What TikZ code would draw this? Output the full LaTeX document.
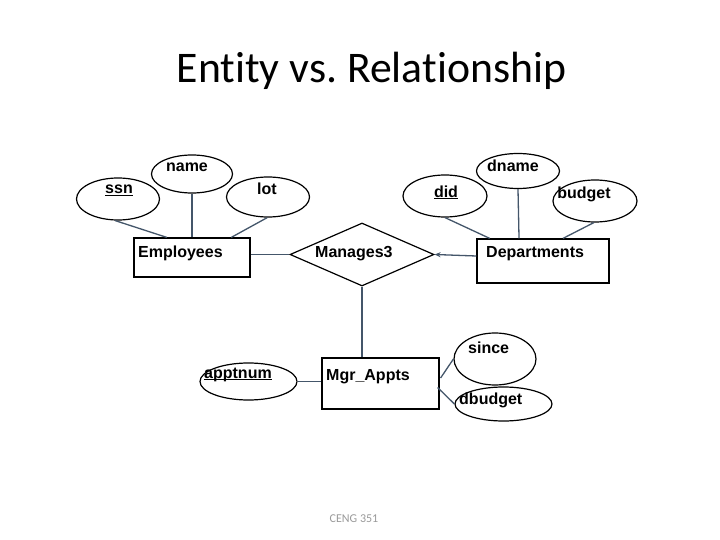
\documentclass[tikz,border=0pt]{standalone}
\usepackage{fontspec}
\setmainfont{Liberation Sans}
\newfontfamily\titlefont[Ligatures={NoCommon}]{Carlito}
\usetikzlibrary{shapes.geometric,arrows.meta,calc}
\definecolor{conn}{HTML}{44566A}
\definecolor{foot}{HTML}{9A9A9A}
\newcommand{\keyattr}[1]{\underline{\smash{#1}}}
\tikzset{
  attr/.style={draw=black,line width=1.2pt,ellipse,inner sep=0pt},
  ent/.style={draw=black,line width=1.2pt,rectangle,inner sep=0pt},
  rel/.style={draw=black,line width=1.2pt,diamond,inner sep=0pt},
  lbl/.style={inner sep=0pt,font=\bfseries\fontsize{16}{18}\selectfont},
  link/.style={draw=conn,line width=1.3pt},
}
\begin{document}
\frenchspacing
\begin{tikzpicture}[x=1pt,y=-1pt]
\useasboundingbox[fill=white] (0,0) rectangle (720,540);
\node[inner sep=0pt,anchor=base,font=\titlefont\fontsize{43.7}{48}\selectfont] (title) at (371.5,83) {Entity vs.\ Relationship};

% Employees side
\node[attr,minimum width=83pt,minimum height=42pt] (ssn) at (118,199) {};
\node[attr,minimum width=81pt,minimum height=38pt] (name) at (192,174) {};
\node[attr,minimum width=83pt,minimum height=40pt] (lot) at (268,197) {};
\node[ent,minimum width=116pt,minimum height=39pt] (emp) at (192,257.5) {};
\node[lbl,anchor=base] (ssnt) at (119,194) {\keyattr{ssn}};
\node[lbl,anchor=base] (namet) at (187,172) {name};
\node[lbl,anchor=base] (lott) at (267,195) {lot};
\node[lbl,anchor=base west] (empt) at (138,258) {Employees};

% relationship
\node[rel,minimum width=144pt,minimum height=63pt] (mgr) at (362,254.5) {};
\node[lbl,anchor=base west] (mgrt) at (315,257) {Manages3};

% Departments side
\node[attr,minimum width=84pt,minimum height=42pt] (did) at (445,196) {};
\node[attr,minimum width=83pt,minimum height=35pt] (dname) at (518,171) {};
\node[attr,minimum width=84pt,minimum height=42pt] (budget) at (595,201) {};
\node[ent,minimum width=132pt,minimum height=44pt] (dept) at (543,261) {};
\node[lbl,anchor=base] (didt) at (446,197) {\keyattr{did}};
\node[lbl,anchor=base] (dnamet) at (513,172) {dname};
\node[lbl,anchor=base] (budgett) at (584,199) {budget};
\node[lbl,anchor=base west] (deptt) at (486,257) {Departments};

% Mgr_Appts
\node[ent,minimum width=117pt,minimum height=51pt] (appts) at (380.5,383.5) {};
\node[lbl,anchor=base west] (apptst) at (326,380) {Mgr\_Appts};
\node[attr,minimum width=97pt,minimum height=37pt] (apptnum) at (248.5,381.5) {};
\node[lbl,anchor=base west] (apptnumt) at (204,378) {\keyattr{apptnum}};
\node[attr,minimum width=82pt,minimum height=52pt] (since) at (495,359) {};
\node[lbl,anchor=base west] (sincet) at (468,353) {since};
\node[attr,minimum width=97pt,minimum height=34pt] (dbudget) at (503.5,404) {};
\node[lbl,anchor=base west] (dbudgett) at (459,404) {dbudget};

% connectors
\draw[link] (ssn.-98) -- ($(emp.north west)!0.285!(emp.north east)$);
\draw[link] (name.south) -- (emp.north);
\draw[link] (lot.-92) -- ($(emp.north west)!0.835!(emp.north east)$);
\draw[link] (did.-90) -- ($(dept.north west)!0.1!(dept.north east)$);
\draw[link] (dname.south) -- ($(dept.north west)!0.32!(dept.north east)$);
\draw[link] (budget.-93) -- ($(dept.north west)!0.65!(dept.north east)$);
\draw[link] (emp.east |- mgr.west) -- (mgr.west);
\draw[link,-{Stealth[length=6pt,width=5pt]}] ($(dept.west)+(0,-5)$) -- (mgr.east);
\draw[link] (mgr.south) -- (mgr.south |- appts.north);
\draw[link] (apptnum.east) -- (appts.west |- apptnum.east);
\draw[link] ($(appts.east)+(1,-5.5)$) -- (since.west);
\draw[link] ($(appts.east)+(-2,4)$) -- (dbudget.west);

\node[inner sep=0pt,anchor=base,text=foot,font=\titlefont\fontsize{12}{14}\selectfont] (foot) at (354,522) {CENG 351};
\end{tikzpicture}
\end{document}
